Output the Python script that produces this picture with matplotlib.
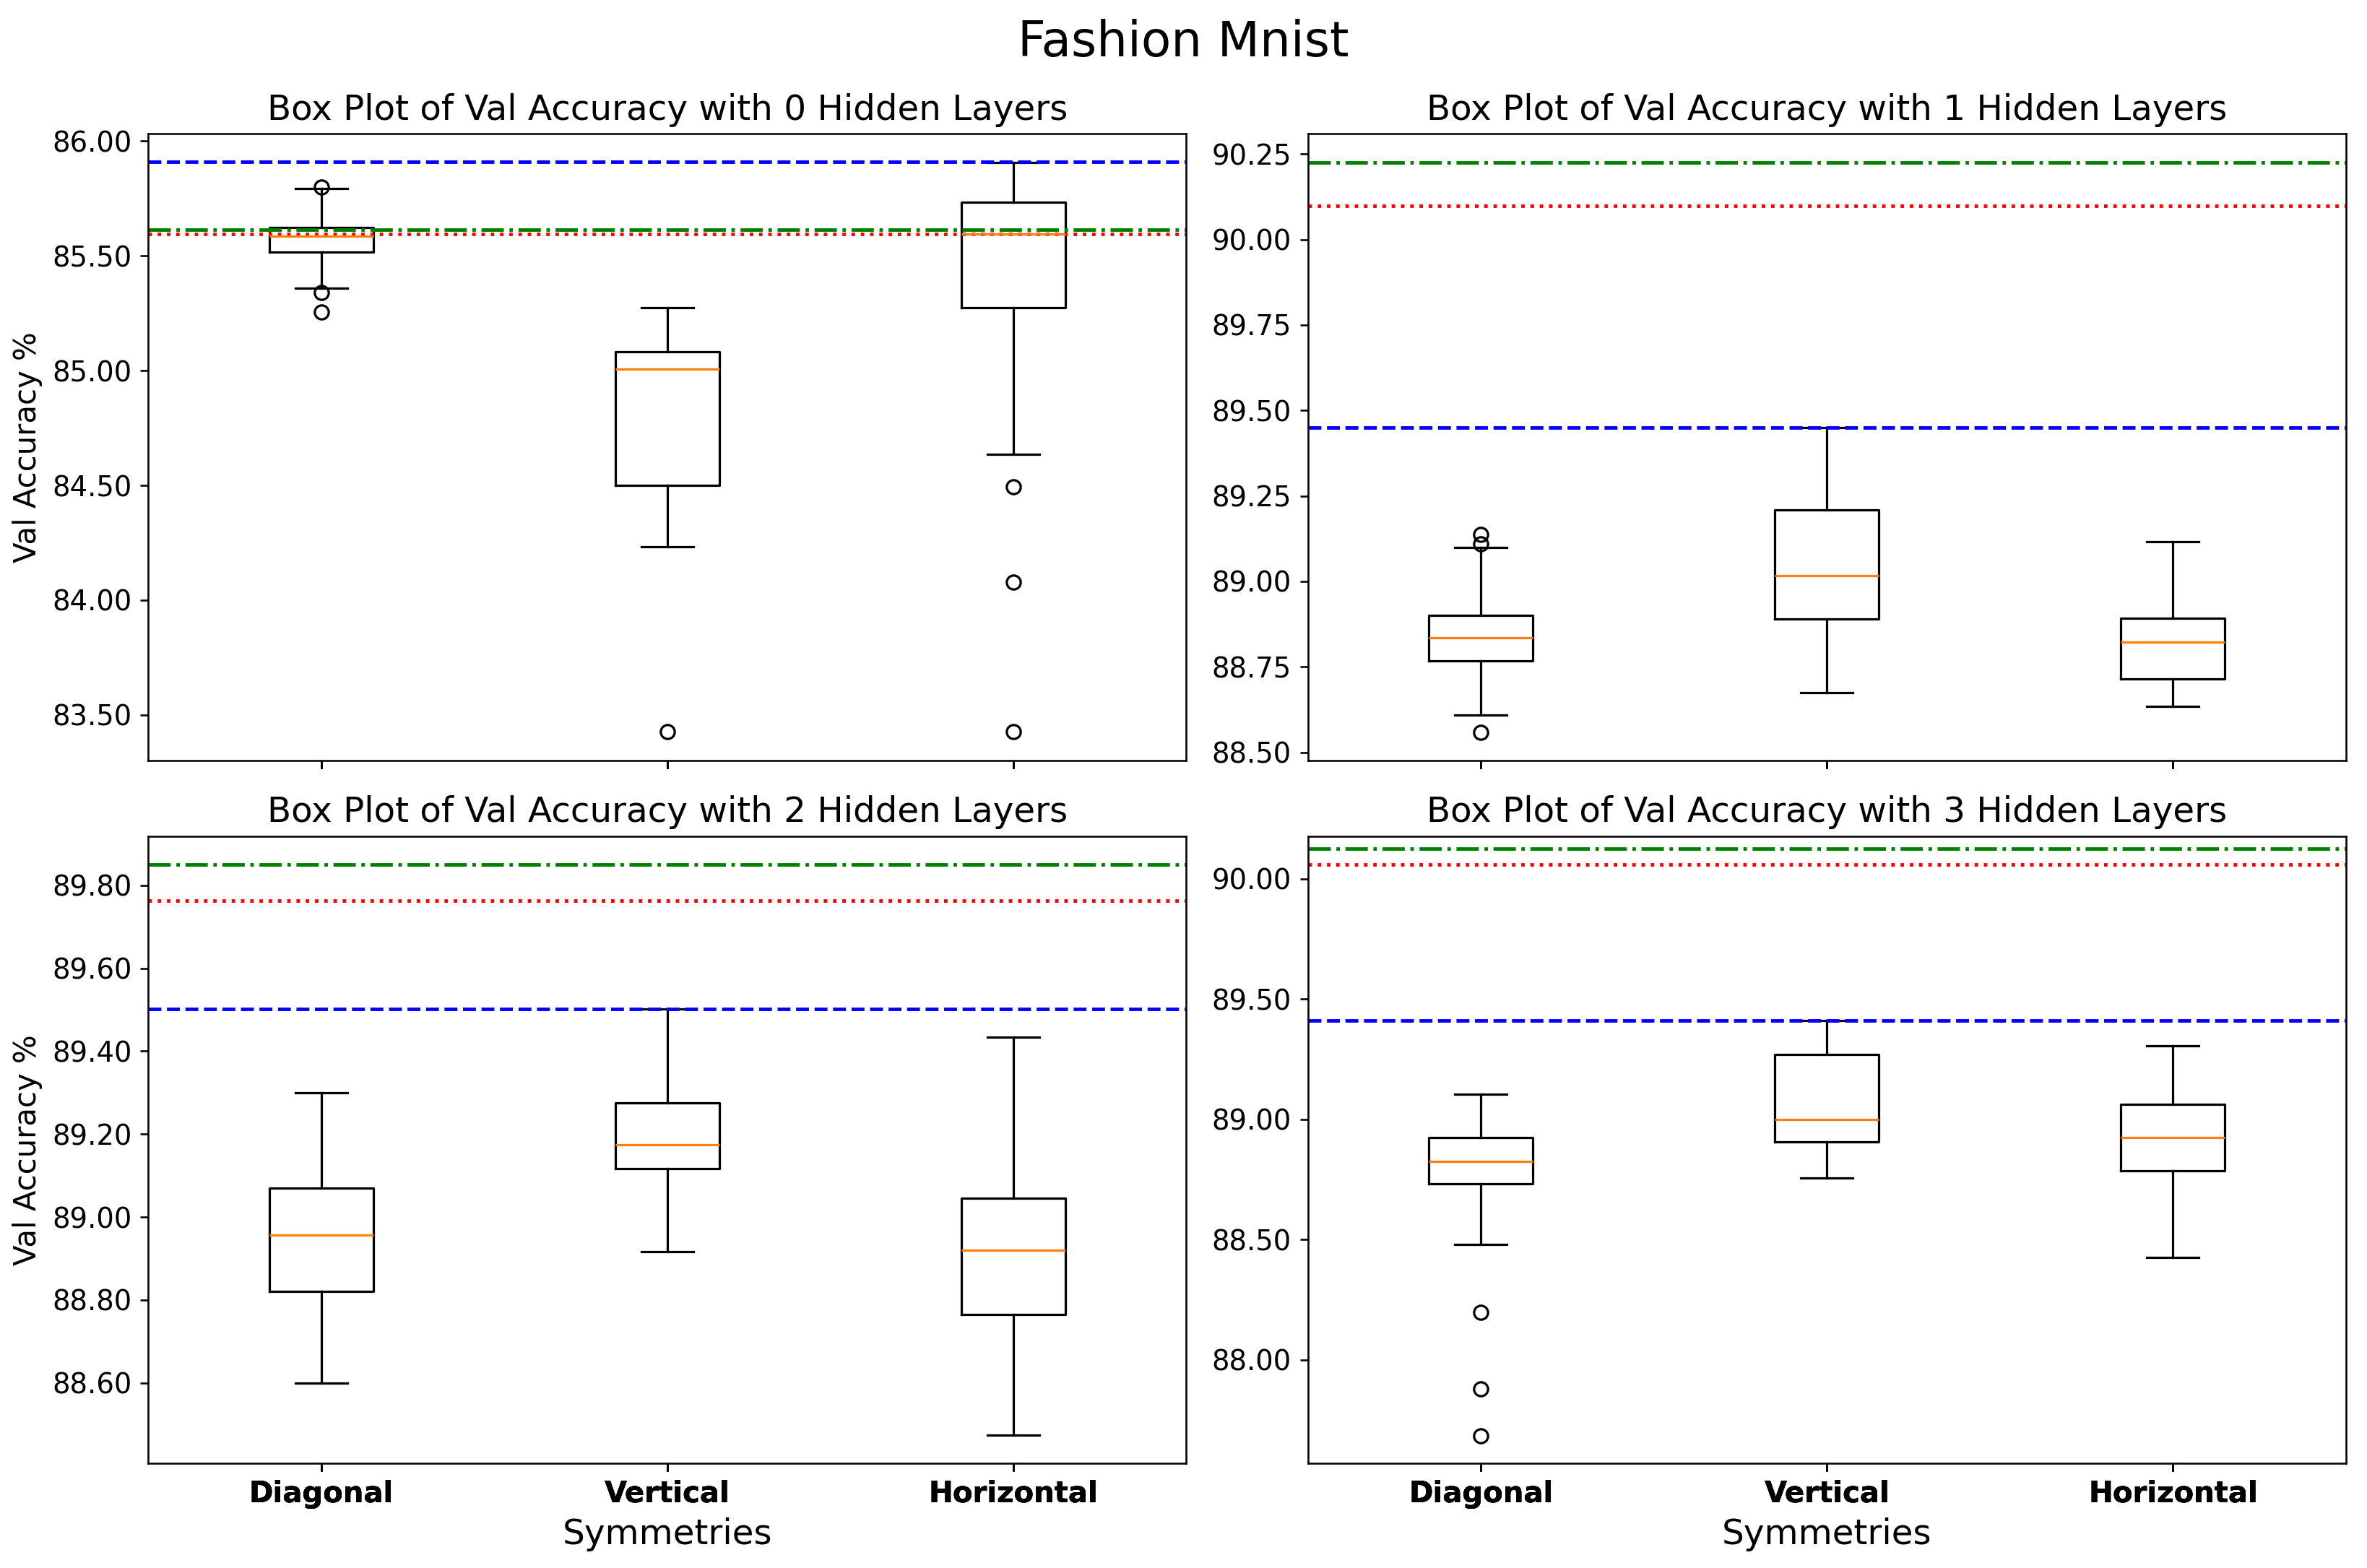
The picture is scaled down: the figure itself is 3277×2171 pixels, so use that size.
import matplotlib
matplotlib.use("Agg")
import matplotlib.pyplot as plt
from matplotlib.ticker import FormatStrFormatter

# symmetry groups on the x axis
symmetries = ["Diagonal", "Vertical", "Horizontal"]
hidden_layers = [0, 1, 2, 3]

# box statistics, one row per hidden-layer count, one entry per symmetry
whis_lo = [[85.360, 84.234, 84.635],
           [88.609, 88.675, 88.635],
           [88.600, 88.916, 88.474],
           [88.481, 88.755, 88.425]]
q1 = [[85.517, 84.500, 85.275],
      [88.767, 88.891, 88.714],
      [88.821, 89.117, 88.765],
      [88.732, 88.906, 88.786]]
med = [[85.585, 85.007, 85.596],
       [88.834, 89.016, 88.822],
       [88.956, 89.175, 88.920],
       [88.824, 89.000, 88.925]]
q3 = [[85.625, 85.083, 85.734],
      [88.900, 89.209, 88.893],
      [89.070, 89.276, 89.046],
      [88.925, 89.270, 89.063]]
whis_hi = [[85.793, 85.275, 85.908],
           [89.100, 89.450, 89.116],
           [89.299, 89.502, 89.434],
           [89.105, 89.410, 89.306]]
outliers = [[[85.800, 85.340, 85.257], [83.426], [84.493, 84.078, 83.426]],
            [[89.137, 89.110, 88.558], [], []],
            [[], [], []],
            [[88.198, 87.880, 87.685], [], []]]

# reference lines per panel
blue_ref = [85.910, 89.450, 89.502, 89.410]
green_ref = [85.615, 90.225, 89.851, 90.125]
red_ref = [85.597, 90.099, 89.764, 90.058]

y_limits = [(83.30, 86.033), (88.475, 90.31), (88.406, 89.919), (87.570, 90.177)]

fig, axes = plt.subplots(2, 2, figsize=(3277 / 232, 2171 / 232), sharex=True)
fig.subplots_adjust(left=0.0626, right=0.9911, top=0.9148, bottom=0.0668,
                    wspace=0.117, hspace=0.12)

for i, ax in enumerate(axes.flat):
    stats = []
    for j, name in enumerate(symmetries):
        stats.append({"label": name, "whislo": whis_lo[i][j], "q1": q1[i][j],
                      "med": med[i][j], "q3": q3[i][j], "whishi": whis_hi[i][j],
                      "fliers": outliers[i][j]})
    ax.bxp(stats, positions=[1, 2, 3], widths=0.3)
    ax.axhline(blue_ref[i], color='b', linestyle='--')
    ax.axhline(green_ref[i], color='g', linestyle='-.')
    ax.axhline(red_ref[i], color='r', linestyle=':')
    ax.set_ylim(*y_limits[i])
    ax.yaxis.set_major_formatter(FormatStrFormatter('%.2f'))
    ax.tick_params(axis='y', labelsize=12)
    ax.tick_params(axis='x', labelsize=12.5)
    ax.set_title("Box Plot of Val Accuracy with %d Hidden Layers" % hidden_layers[i], fontsize=15)
    if i % 2 == 0:
        ax.set_ylabel("Val Accuracy %", fontsize=13)
    if i >= 2:
        ax.set_xlabel("Symmetries", fontsize=15)
        for lbl in ax.get_xticklabels():
            lbl.set_fontweight('bold')

fig.suptitle("Fashion Mnist", fontsize=21, y=0.988)
fig.savefig("out.png", dpi=232)
